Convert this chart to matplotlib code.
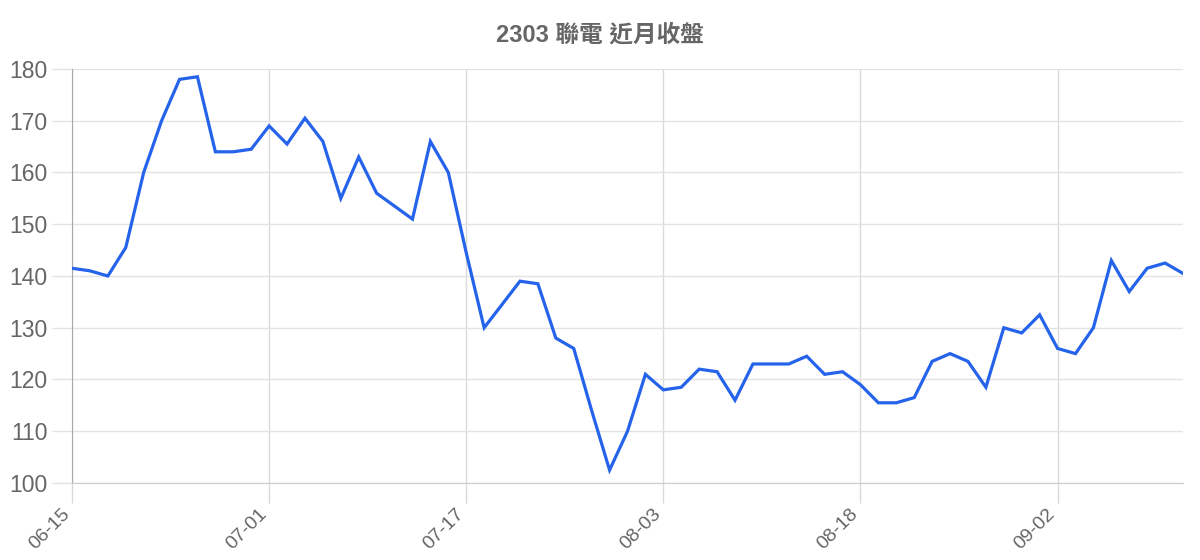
import matplotlib
matplotlib.use("Agg")
import matplotlib.pyplot as plt
from matplotlib.transforms import ScaledTranslation

plt.rcParams['font.family'] = ['Liberation Sans', 'Noto Sans CJK TC', 'DejaVu Sans']

title = "2303 聯電 近月收盤"
tick_labels = ["06-15", "07-01", "07-17", "08-03", "08-18", "09-02"]
tick_step = 11  # one label every 11 trading days

closes = [
    141.5, 141.0, 140.0, 145.5, 160.0, 170.0, 178.0, 178.5, 164.0, 164.0,
    164.5, 169.0, 165.5, 170.5, 166.0, 155.0, 163.0, 156.0, 153.5, 151.0,
    166.0, 160.0, 144.5, 130.0, 134.5, 139.0, 138.5, 128.0, 126.0, 114.0,
    102.5, 110.0, 121.0, 118.0, 118.5, 122.0, 121.5, 116.0, 123.0, 123.0,
    123.0, 124.5, 121.0, 121.5, 119.0, 115.5, 115.5, 116.5, 123.5, 125.0,
    123.5, 118.5, 130.0, 129.0, 132.5, 126.0, 125.0, 130.0, 143.0, 137.0,
    141.5, 142.5, 140.5,
]

text_gray = "#666666"
grid_gray = "#e3e3e3"

fig = plt.figure(figsize=(12, 5.6), dpi=100)
ax = fig.add_axes([72 / 1200, 1 - 483 / 560, (1183 - 72) / 1200, (483 - 69) / 560])

x = list(range(len(closes)))
ax.plot(x, closes, color="#2563eb", linewidth=2.3, solid_joinstyle="miter", zorder=3)

ax.set_xlim(0, len(closes) - 1)
ax.set_ylim(100, 180)
ax.set_yticks(range(100, 181, 10))
ax.set_xticks(range(0, len(closes), tick_step))
ax.set_xticklabels(tick_labels, rotation=45, ha="right", va="center",
                   rotation_mode="anchor", fontsize=14, color=text_gray)
ax.tick_params(axis="y", labelsize=16.5, labelcolor=text_gray, length=14.4,
               width=1, color=grid_gray, pad=3)
ax.tick_params(axis="x", length=14.4, width=1, color="#dadada", pad=6)

# nudge the rotated date labels a little to the left, as in the original
shift = ScaledTranslation(-5 / 100, 0, fig.dpi_scale_trans)
for lbl in ax.get_xticklabels():
    lbl.set_transform(lbl.get_transform() + shift)

ax.grid(axis="y", color=grid_gray, linewidth=1)
ax.grid(axis="x", color="#dadada", linewidth=1)
ax.set_axisbelow(True)

for side in ("top", "right"):
    ax.spines[side].set_visible(False)
ax.spines["left"].set_color("#aaaaaa")
ax.spines["bottom"].set_color("#cccccc")
ax.xaxis.get_major_ticks()[0].tick1line.set_color("#aaaaaa")

fig.text(0.5, 1 - 35 / 560, title, ha="center", va="center",
         fontsize=17, fontweight="bold", color=text_gray)

fig.savefig("out.png", dpi=100, facecolor="white")
